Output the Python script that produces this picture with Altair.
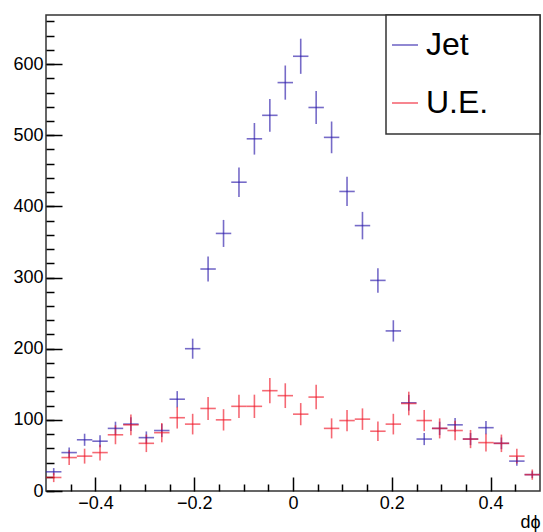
import altair as alt
import numpy as np
import pandas as pd

# 32 bins from -0.5 to 0.5
bin_low = list(np.round(np.linspace(-0.5, 0.5, 33)[:-1], 6))
bin_width = 1.0 / 32

jet_values = [27, 54, 72, 70, 88, 94, 75, 85, 129, 200, 312, 362, 434, 495, 528, 574,
              611, 539, 497, 421, 373, 296, 225, 124, 73, 88, 93, 73, 89, 67, 42, 23]
jet_errors = [5.2, 7.3, 8.5, 8.4, 9.4, 9.7, 8.7, 9.2, 11.4, 14.1, 17.7, 19.0, 20.8, 22.2, 23.0, 24.0,
              24.7, 23.2, 22.3, 20.5, 19.3, 17.2, 15.0, 11.1, 8.5, 9.4, 9.6, 8.5, 9.4, 8.2, 6.5, 4.8]
ue_values = [19, 47, 49, 54, 79, 93, 67, 82, 103, 94, 116, 100, 119, 119, 141, 134,
             108, 132, 88, 99, 101, 84, 94, 123, 99, 88, 85, 73, 68, 67, 49, 23]
ue_errors = [6.5, 10.3, 10.5, 11.0, 13.3, 14.5, 12.3, 13.6, 15.2, 14.5, 16.2, 15.0, 16.4, 16.4, 17.8, 17.4,
             15.6, 17.2, 14.1, 14.9, 15.1, 13.7, 14.5, 16.6, 14.9, 14.1, 13.8, 12.8, 12.4, 12.3, 10.5, 7.2]

series_names = ["Jet", "U.E."]
series_colors = ["#2c1cab", "#f0182a"]

y_major = [0, 100, 200, 300, 400, 500, 600]
y_minor = list(range(0, 670, 20))
x_major = [-0.4, -0.2, 0.0, 0.2, 0.4]
x_minor = [-0.45, -0.35, -0.3, -0.25, -0.15, -0.1, -0.05, 0.05, 0.1, 0.15, 0.25, 0.3, 0.35, 0.45]

rows = []
for name, vals, errs in [("Jet", jet_values, jet_errors), ("U.E.", ue_values, ue_errors)]:
    for lo, v, e in zip(bin_low, vals, errs):
        rows.append({
            "series": name,
            "xlo": lo,
            "xhi": lo + bin_width,
            "x": lo + bin_width / 2,
            "y": v,
            "ylo": v - e,
            "yhi": v + e,
        })
df = pd.DataFrame(rows)

FONT = "Liberation Sans"
xscale = alt.Scale(domain=[-0.5, 0.5], nice=False, zero=False)
yscale = alt.Scale(domain=[0, 669], nice=False, zero=False)
color = alt.Color(
    "series:N",
    scale=alt.Scale(domain=series_names, range=series_colors),
    legend=alt.Legend(
        title=None, orient="none", legendX=343, legendY=14,
        symbolType="stroke", symbolSize=680, symbolStrokeWidth=1.6, symbolOpacity=0.65,
        labelFont=FONT, labelFontSize=32, labelColor="black", labelOffset=5,
        rowPadding=26, padding=0,
    ),
)

box = alt.Chart(pd.DataFrame({"a": [0]})).mark_rect(
    fill="white", stroke="#333333", strokeWidth=1.5
).encode(
    x=alt.value(340), x2=alt.value(494), y=alt.value(0), y2=alt.value(119)
)

vert = alt.Chart(df).mark_rule(strokeWidth=1.6, opacity=0.65).encode(
    x=alt.X("x:Q", scale=xscale, axis=alt.Axis(
        orient="bottom", values=x_major, tickSize=14, offset=-14, domain=False,
        tickColor="black", tickWidth=1.5, grid=False,
        labelFont=FONT, labelFontSize=18, labelColor="black", labelPadding=3,
        labelExpr="datum.value == 0 ? '0' : format(datum.value, '.1f')",
        title="dϕ", titleFont=FONT, titleFontSize=18, titleFontWeight="normal",
        titleColor="black", titleAnchor="end", titlePadding=1,
    )),
    y=alt.Y("ylo:Q", scale=yscale, axis=alt.Axis(
        orient="left", values=y_major, tickSize=16, offset=-16, domain=False,
        tickColor="black", tickWidth=1.5, grid=False,
        labelFont=FONT, labelFontSize=18, labelColor="black", labelPadding=3,
        title=None,
    )),
    y2="yhi:Q",
    color=color,
)

horiz = alt.Chart(df).mark_rule(strokeWidth=1.6, opacity=0.65).encode(
    x=alt.X("xlo:Q", scale=xscale, axis=alt.Axis(
        orient="bottom", values=x_minor, tickSize=7, offset=-7, domain=False,
        tickColor="black", tickWidth=1.5, grid=False, labels=False, title=None,
    )),
    x2="xhi:Q",
    y=alt.Y("y:Q", scale=yscale, axis=alt.Axis(
        orient="left", values=y_minor, tickSize=8, offset=-8, domain=False,
        tickColor="black", tickWidth=1.5, grid=False, labels=False, title=None,
    )),
    color=alt.Color("series:N", scale=alt.Scale(domain=series_names, range=series_colors), legend=None),
)

chart = alt.layer(box, vert, horiz).resolve_axis(
    x="independent", y="independent"
).properties(
    width=494, height=476,
    padding={"left": 46, "top": 15, "right": 3, "bottom": 41},
    autosize=alt.AutoSizeParams(type="none"),
    background="white",
).configure_view(
    stroke="#333333", strokeWidth=1.5
)

chart.save("out.html", embed_options={"renderer": "svg", "actions": False})
